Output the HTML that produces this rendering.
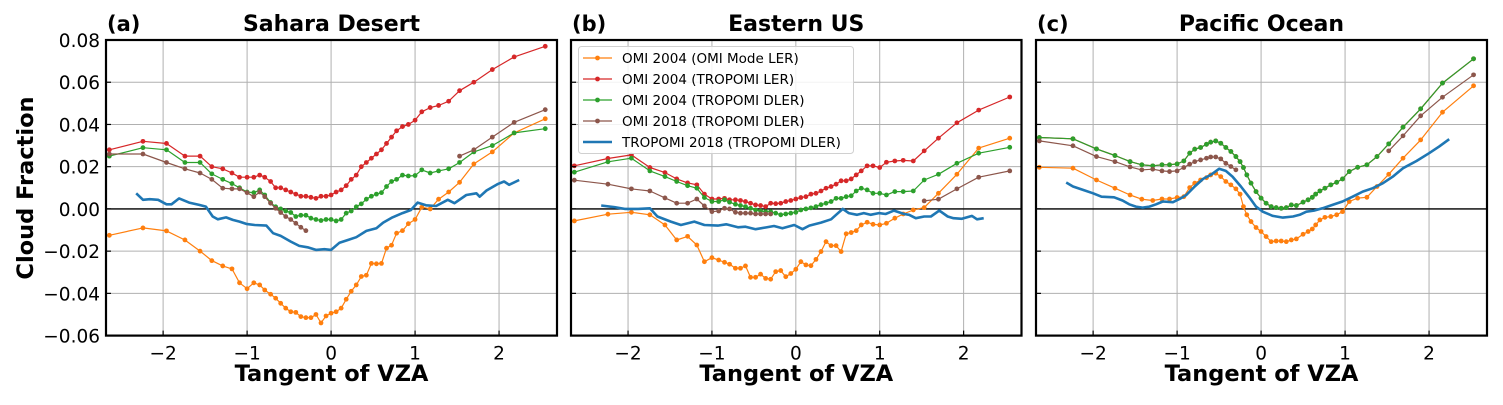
<!DOCTYPE html>
<html><head><meta charset="utf-8"><style>
body{margin:0;background:#fff;}
svg text{font-family:"DejaVu Sans","Liberation Sans",sans-serif;}
</style></head><body>
<svg id="chart" width="1503" height="400" xmlns="http://www.w3.org/2000/svg"></svg>
<script>
// ---------- data ----------
const xsAB = [-2.64,-2.24,-1.96,-1.74,-1.56,-1.42,-1.29,-1.18,-1.09,-1.0,-0.92,-0.85,-0.79,-0.72,-0.66,-0.6,-0.54,-0.48,-0.42,-0.36,-0.3,-0.24,-0.18,-0.12,-0.06,0,0.06,0.12,0.18,0.24,0.3,0.36,0.42,0.48,0.54,0.6,0.66,0.72,0.78,0.85,0.92,1.0,1.08,1.18,1.28,1.4,1.53,1.7,1.92,2.18,2.55];
const xsC = [-2.64,-2.24,-1.96,-1.74,-1.56,-1.42,-1.29,-1.18,-1.09,-1.0,-0.92,-0.85,-0.79,-0.72,-0.65,-0.6,-0.54,-0.48,-0.42,-0.36,-0.3,-0.25,-0.21,-0.17,-0.12,-0.06,0,0.06,0.12,0.18,0.24,0.3,0.36,0.42,0.5,0.56,0.61,0.65,0.7,0.76,0.83,0.9,0.97,1.05,1.15,1.26,1.38,1.52,1.69,1.9,2.16,2.53];
const N=null;
// Panel (a) Sahara
const aOrange=[-.0125,-.009,-.0104,-.0147,-.020,-.0245,-.027,-.0284,-.035,-.0378,-.035,-.036,-.0384,-.0404,-.0423,-.0447,-.047,-.0487,-.049,-.051,-.0515,-.0515,-.050,-.054,-.0507,-.0494,-.0487,-.047,-.0428,-.039,-.036,-.032,-.0314,-.0258,-.026,-.0258,-.0186,-.0172,-.0115,-.0103,-.007,-.005,.0008,0,.0046,.008,.0126,.0213,.027,.036,.0427];
const aRed=[.028,.032,.031,.025,.025,.020,.019,.017,.015,.015,.015,.016,.015,.013,.010,.010,.009,.008,.007,.006,.006,.0055,.005,.006,.006,.0066,.008,.009,.011,.014,.016,.020,.022,.024,.026,.028,.031,.034,.037,.039,.040,.042,.046,.048,.049,.051,.056,.060,.066,.072,.077];
const aGreen=[.025,.029,.028,.022,.022,.0166,.014,.012,.010,.008,.0077,.009,.0066,.003,.001,0,-.001,-.0017,-.0036,-.003,-.003,-.0044,-.005,-.0055,-.005,-.005,-.0057,-.005,-.002,-.001,.001,.0024,.0046,.006,.007,.0077,.0106,.013,.014,.016,.0156,.0158,.0185,.017,.018,.019,.022,.027,.030,.036,.038];
const aBrown=[.026,.026,.022,.019,.017,.014,.0098,.0095,.0095,.0077,.0058,.008,.0058,.0027,.0003,-.0017,-.0036,-.005,-.0068,-.0087,-.0103,N,N,N,N,N,N,N,N,N,N,N,N,N,N,N,N,N,N,N,N,N,N,N,N,N,.025,.028,.034,.041,.047];
const aBlueX=[-2.32,-2.24,-2.16,-2.06,-1.96,-1.90,-1.81,-1.69,-1.57,-1.49,-1.41,-1.35,-1.25,-1.17,-1.09,-1.01,-0.91,-0.77,-0.69,-0.60,-0.48,-0.38,-0.28,-0.18,-0.08,0,0.1,0.2,0.3,0.42,0.54,0.62,0.73,0.85,0.95,1.03,1.13,1.25,1.39,1.47,1.61,1.73,1.77,1.85,1.98,2.06,2.12,2.24];
const aBlue=[.0074,.0043,.0046,.0043,.0022,.0022,.005,.003,.0019,.0011,-.0036,-.0049,-.004,-.0052,-.006,-.0071,-.0076,-.0079,-.0115,-.0128,-.0155,-.0175,-.0182,-.0194,-.0191,-.0194,-.016,-.0147,-.0134,-.0104,-.0092,-.0065,-.004,-.002,-.0005,.003,.0017,.0014,.0043,.0027,.0066,.0074,.0058,.0087,.0117,.013,.0114,.0137];
// Panel (b) Eastern US
const bOrange=[-.0057,-.0025,-.0016,-.0028,-.0076,-.0147,-.013,-.0171,-.025,-.0231,-.0242,-.0253,-.0262,-.0281,-.0281,-.027,-.0324,-.0324,-.0309,-.0329,-.0333,-.0297,-.0292,-.0321,-.0306,-.0286,-.025,-.0265,-.0269,-.0239,-.0202,-.0155,-.0174,-.0174,-.0202,-.0118,-.0112,-.0103,-.0076,-.0063,-.0073,-.0076,-.0068,-.0044,-.0024,-.0005,.0006,.0074,.0164,.0288,.0335];
const bRed=[.0204,.0239,.0256,.0196,.0172,.0142,.0123,.0114,.007,.0047,.0047,.005,.0043,.0043,.004,.0035,.0027,.0019,.0016,.0011,.0027,.0025,.0027,.0035,.004,.0047,.0054,.0058,.007,.0074,.0085,.0098,.0106,.0117,.0133,.0133,.0142,.0161,.018,.0204,.0204,.0196,.0221,.0227,.023,.0227,.0275,.0335,.0408,.0468,.053];
const bGreen=[.0174,.0223,.024,.018,.0153,.013,.011,.0098,.0054,.0035,.0035,.0043,.0032,.0022,.0016,.0011,.0003,-.0005,-.001,-.0013,-.0013,-.002,-.0028,-.0024,-.002,-.0016,-.0005,0,.0005,.0011,.002,.0027,.0035,.005,.005,.0058,.0062,.0085,.0098,.009,.0074,.0074,.0066,.0082,.0082,.0085,.0137,.0164,.0216,.0264,.0292];
const bBrown=[.0136,.0117,.0095,.0085,.0052,.0027,.0027,.0047,.0014,-.0013,-.001,.0003,0,-.0016,-.002,-.002,-.002,-.0024,-.0024,-.0024,-.0024,N,N,N,N,N,N,N,N,N,N,N,N,N,N,N,N,N,N,N,N,N,N,N,N,N,.0038,.0046,.0095,.015,.018];
const bBlueX=[-2.32,-2.16,-2.04,-1.88,-1.74,-1.65,-1.49,-1.37,-1.21,-1.09,-0.93,-0.83,-0.69,-0.60,-0.48,-0.36,-0.26,-0.16,-0.02,0.08,0.16,0.30,0.42,0.48,0.56,0.63,0.73,0.81,0.89,0.99,1.07,1.17,1.29,1.35,1.43,1.53,1.61,1.71,1.81,1.88,1.98,2.10,2.16,2.24];
const bBlue=[.0016,.0008,0,0,.0003,-.0036,-.006,-.0076,-.006,-.0076,-.0079,-.0073,-.0087,-.0084,-.0096,-.0088,-.0081,-.0092,-.0076,-.0096,-.0079,-.0065,-.0049,-.0028,0,-.002,-.0028,-.002,-.0028,-.002,-.0024,-.0008,-.0024,-.0028,-.0044,-.0036,-.0036,-.0008,-.0036,-.0044,-.0047,-.0033,-.0049,-.0044];
// Panel (c) Pacific Ocean
const cOrange=[.0197,.0193,.0137,.0098,.0066,.0046,.004,.0047,.0047,.0054,.0058,.0101,.0122,.0137,.0148,.0161,.0169,.0153,.013,.0114,.0095,.007,.0011,-.0028,-.006,-.0088,-.0107,-.0131,-.0155,-.0152,-.0152,-.0155,-.0147,-.0142,-.012,-.0107,-.0095,-.0076,-.0052,-.004,-.0036,-.0028,-.0013,.0035,.0051,.0055,.0106,.0164,.024,.0327,.0458,.0583];
const cRed=[.0338,.0332,.0284,.0253,.0224,.0209,.0204,.0209,.0209,.0213,.0227,.0264,.0283,.0291,.0306,.0316,.0322,.0311,.0291,.0272,.0248,.0224,.0196,.0161,.0122,.0082,.0051,.0027,.0011,.0006,.0003,.0006,.0019,.0016,.0032,.0043,.0055,.007,.0085,.0098,.0114,.0126,.0142,.0177,.0197,.0209,.0248,.0308,.0387,.0474,.0596,.0711];
const cGreen=[.0338,.0332,.0284,.0253,.0224,.0209,.0204,.0209,.0209,.0213,.0227,.0264,.0283,.0291,.0306,.0316,.0322,.0311,.0291,.0272,.0248,.0224,.0196,.0161,.0122,.0082,.0051,.0027,.0011,.0006,.0003,.0006,.0019,.0016,.0032,.0043,.0055,.007,.0085,.0098,.0114,.0126,.0142,.0177,.0197,.0209,.0248,.0308,.0387,.0474,.0596,.0711];
const cBrown=[.0322,.0299,.0248,.0224,.0199,.0185,.0188,.018,.0177,.018,.0196,.0212,.0224,.0232,.024,.0246,.0246,.0237,.0216,.0201,.0185,N,N,N,N,N,N,N,N,N,N,N,N,N,N,N,N,N,N,N,N,N,N,N,N,N,N,.0275,.0346,.0441,.0529,.0635];
const cBlueX=[-2.32,-2.24,-2.12,-2.0,-1.9,-1.75,-1.65,-1.57,-1.49,-1.41,-1.33,-1.25,-1.17,-1.05,-0.97,-0.89,-0.79,-0.69,-0.6,-0.5,-0.42,-0.34,-0.24,-0.14,-0.06,0.02,0.14,0.26,0.38,0.46,0.54,0.63,0.73,0.85,0.97,1.09,1.21,1.33,1.45,1.57,1.69,1.85,2.0,2.12,2.24];
const cBlue=[.0125,.0106,.009,.0074,.0058,.0055,.004,.0022,.0011,.0006,.0011,.0022,.0035,.0032,.0047,.0066,.0106,.0142,.0161,.019,.018,.0153,.0106,.0055,.0011,-.0013,-.0033,-.0041,-.0036,-.0028,-.0013,-.0008,.0003,.0019,.0035,.0058,.0082,.0098,.0122,.0153,.0193,.0227,.0264,.0295,.033];
const yTicks=[0.08,0.06,0.04,0.02,0.00,-0.02,-0.04,-0.06];
const yTickLabels=["0.08","0.06","0.04","0.02","0.00","\u22120.02","\u22120.04","\u22120.06"];
const xTicks=[-2,-1,0,1,2];
const xTickLabels=["\u22122","\u22121","0","1","2"];
const seriesNames=["OMI 2004 (OMI Mode LER)","OMI 2004 (TROPOMI LER)","OMI 2004 (TROPOMI DLER)","OMI 2018 (TROPOMI DLER)","TROPOMI 2018 (TROPOMI DLER)"];
const colors=["#ff7f0e","#d62728","#2ca02c","#8c564b","#1f77b4"];

// ---------- drawing ----------
const NS="http://www.w3.org/2000/svg";
const svg=document.getElementById('chart');
function mk(tag,attrs,parent){const e=document.createElementNS(NS,tag);for(const k in attrs)e.setAttribute(k,attrs[k]);(parent||svg).appendChild(e);return e;}
const TOP=40,BOT=335.6,XMIN=-2.68,XMAX=2.69,YMIN=-0.06,YMAX=0.08;
const panels=[
 {L:106,R:557,title:"Sahara Desert",tag:"(a)",key:"sahara",ser:[[xsAB,aOrange],[xsAB,aRed],[xsAB,aGreen],[xsAB,aBrown],[aBlueX,aBlue]],labels:true,legend:false},
 {L:571,R:1021.5,title:"Eastern US",tag:"(b)",key:"eastern-us",ser:[[xsAB,bOrange],[xsAB,bRed],[xsAB,bGreen],[xsAB,bBrown],[bBlueX,bBlue]],labels:false,legend:true},
 {L:1036,R:1487,title:"Pacific Ocean",tag:"(c)",key:"pacific",ser:[[xsC,cOrange],[xsC,cRed],[xsC,cGreen],[xsC,cBrown],[cBlueX,cBlue]],labels:false,legend:false}
];
const serKeys=["omi2004-omi-ler","omi2004-tropomi-ler","omi2004-tropomi-dler","omi2018-tropomi-dler","tropomi2018-tropomi-dler"];
panels.forEach(p=>{
 const sx=v=>p.L+(v-XMIN)/(XMAX-XMIN)*(p.R-p.L);
 const sy=v=>TOP+(YMAX-v)/(YMAX-YMIN)*(BOT-TOP);
 const g=mk('g',{});
 
 
 xTicks.forEach(t=>{const l=mk('line',{x1:sx(t),x2:sx(t),y1:TOP,y2:BOT,stroke:'#b0b0b0','stroke-width':1},g);
  });
 yTicks.forEach(t=>{const l=mk('line',{x1:p.L,x2:p.R,y1:sy(t),y2:sy(t),stroke:'#b0b0b0','stroke-width':1},g);
  });
 const z=mk('line',{x1:p.L,x2:p.R,y1:sy(0),y2:sy(0),stroke:'#000','stroke-width':1.4},g);
 
 p.ser.forEach((s,i)=>{
  const xs=s[0],ys=s[1];let d='';let pen=false;
  ys.forEach((v,j)=>{if(v===null){pen=false;return;}d+=(pen?'L':'M')+sx(xs[j]).toFixed(1)+' '+sy(v).toFixed(1);pen=true;});
  const path=mk('path',{d:d,fill:'none',stroke:colors[i],'stroke-width':i===4?2.6:1.2,'stroke-linejoin':'round'},g);
  
  
  if(i<4){ys.forEach((v,j)=>{if(v===null)return;
   const c=mk('circle',{cx:sx(xs[j]),cy:sy(v),r:2.4,fill:colors[i]},g);
   
   });}
 });
 xTicks.forEach((t,k)=>{mk('line',{x1:sx(t),x2:sx(t),y1:BOT,y2:BOT-5,stroke:'#000','stroke-width':1.2},g);
  const tl=mk('text',{x:sx(t),y:BOT+24,'font-size':18.5,'text-anchor':'middle',fill:'#000'},g);tl.textContent=xTickLabels[k];
  });
 yTicks.forEach((t,k)=>{mk('line',{x1:p.L,x2:p.L+5,y1:sy(t),y2:sy(t),stroke:'#000','stroke-width':1.2},g);
  if(p.labels){const tl=mk('text',{x:p.L-6,y:sy(t)+7,'font-size':18.5,'text-anchor':'end',fill:'#000'},g);tl.textContent=yTickLabels[k];
  }});
 const fr=mk('rect',{x:p.L,y:TOP,width:p.R-p.L,height:BOT-TOP,fill:'none',stroke:'#000','stroke-width':2.2},g);
 
 const ti=mk('text',{x:(p.L+p.R)/2,y:31,'font-size':22,'font-weight':'bold','text-anchor':'middle'},g);ti.textContent=p.title;
 
 const tg=mk('text',{x:p.L+1,y:31,'font-size':21,'font-weight':'bold'},g);tg.textContent=p.tag;
 
 const xl=mk('text',{x:(p.L+p.R)/2,y:381,'font-size':22.5,'font-weight':'bold','text-anchor':'middle'},g);xl.textContent="Tangent of VZA";
 
 if(p.legend){
  const lg=mk('g',{},g);
  
  mk('rect',{x:578.5,y:46.5,width:275,height:107,rx:3,fill:'#fff','fill-opacity':0.85,stroke:'#d0d0d0','stroke-width':1},lg);
  seriesNames.forEach((n,i)=>{const yy=58+i*21;
   const e=mk('g',{},lg);
   
   mk('line',{x1:583,x2:612,y1:yy,y2:yy,stroke:colors[i],'stroke-width':i===4?2.6:1.2},e);
   if(i<4)mk('circle',{cx:597.5,cy:yy,r:2.4,fill:colors[i]},e);
   const t=mk('text',{x:622,y:yy+5,'font-size':13.5,fill:'#000'},e);t.textContent=n;});
 }
});
const yl=mk('text',{x:0,y:0,'font-size':22.5,'font-weight':'bold','text-anchor':'middle',transform:'translate(33,188) rotate(-90)'});
yl.textContent="Cloud Fraction";


</script>
</body></html>
